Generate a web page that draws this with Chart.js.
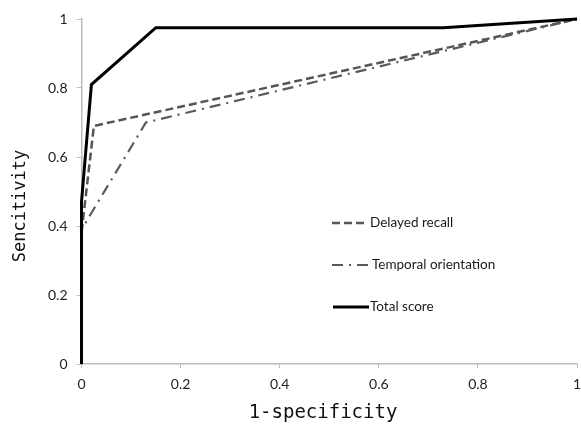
<!DOCTYPE html>
<html lang="en">
<head>
    <meta charset="UTF-8">
    <title>ROC curves</title>
    <script src="https://cdn.jsdelivr.net/npm/chart.js"></script>
    <style>
        body {
            margin: 0;
            background: #fff;
        }
        .chart-container {
            position: relative;
            width: 581px;
            height: 431px;
        }
    </style>
</head>
<body>
    <div class="chart-container">
        <canvas id="rocChart"></canvas>
    </div>

    <script>
        // ROC points: x = 1-specificity, y = sensitivity
        const seriesNames = ["Delayed recall", "Temporal orientation", "Total score"];
        const delayedX = [0, 0, 0.025, 1];
        const delayedY = [0, 0.38, 0.69, 1];
        const temporalX = [0, 0, 0.13, 1];
        const temporalY = [0, 0.39, 0.70, 1];
        const totalX = [0, 0, 0.02, 0.15, 0.73, 1];
        const totalY = [0, 0.47, 0.81, 0.975, 0.975, 1];
        const tickValues = [0, 0.2, 0.4, 0.6, 0.8, 1];

        function toPoints(xs, ys) {
            return xs.map((x, i) => ({ x: x, y: ys[i] }));
        }

        // legend inside the plot and both axis titles, placed like the original figure
        const innerLegend = {
            id: 'innerLegend',
            afterDatasetsDraw(chart) {
                const ctx = chart.ctx;
                const rows = [
                    { y: 223, x1: 332, x2: 364, tx: 370 },
                    { y: 265, x1: 332, x2: 369, tx: 372 },
                    { y: 307, x1: 333, x2: 369, tx: 370 }
                ];
                chart.data.datasets.forEach((ds, i) => {
                    const r = rows[i];
                    ctx.save();
                    ctx.strokeStyle = ds.borderColor;
                    ctx.lineWidth = ds.borderWidth;
                    ctx.setLineDash(ds.borderDash || []);
                    ctx.beginPath();
                    ctx.moveTo(r.x1, r.y);
                    ctx.lineTo(r.x2, r.y);
                    ctx.stroke();
                    ctx.setLineDash([]);
                    ctx.fillStyle = '#1a1a1a';
                    ctx.font = '13.5px Lato';
                    ctx.textBaseline = 'middle';
                    ctx.fillText(ds.label, r.tx, r.y);
                    ctx.restore();
                });

                ctx.save();
                ctx.fillStyle = '#111';
                ctx.textAlign = 'center';
                ctx.textBaseline = 'middle';
                ctx.font = '19px "DejaVu Sans Mono"';
                ctx.fillText('1-specificity', 323, 413);
                ctx.translate(21, 206);
                ctx.rotate(-Math.PI / 2);
                ctx.font = '17px "DejaVu Sans Mono"';
                ctx.fillText('Sencitivity', 0, 0);
                ctx.restore();
            }
        };

        const ctx = document.getElementById("rocChart").getContext("2d");
        const rocChart = new Chart(ctx, {
            type: 'scatter',
            data: {
                datasets: [
                    {
                        label: seriesNames[0],
                        data: toPoints(delayedX, delayedY),
                        borderColor: '#555',
                        borderWidth: 2.5,
                        borderDash: [8, 4],
                        order: 2
                    },
                    {
                        label: seriesNames[1],
                        data: toPoints(temporalX, temporalY),
                        borderColor: '#5a5a5a',
                        borderWidth: 2.2,
                        borderDash: [11, 6, 2, 6],
                        order: 1
                    },
                    {
                        label: seriesNames[2],
                        data: toPoints(totalX, totalY),
                        borderColor: '#000',
                        borderWidth: 3,
                        order: 0
                    }
                ].map(ds => Object.assign(ds, {
                    showLine: true,
                    tension: 0,
                    pointRadius: 0,
                    pointHoverRadius: 0,
                    fill: false,
                    clip: false
                }))
            },
            options: {
                responsive: true,
                maintainAspectRatio: false,
                animation: false,
                layout: {
                    padding: { top: 19, right: 4, left: 0, bottom: 0 }
                },
                plugins: {
                    legend: { display: false },
                    tooltip: { enabled: false }
                },
                scales: {
                    x: {
                        type: 'linear',
                        min: 0,
                        max: 1,
                        afterBuildTicks: s => { s.ticks = tickValues.map(v => ({ value: v })); },
                        afterFit: s => {
                            s.height = 67;
                            s.paddingLeft = 0;
                            s.paddingRight = 0;
                        },
                        grid: {
                            drawOnChartArea: false,
                            drawTicks: true,
                            tickLength: 4,
                            color: '#bbb'
                        },
                        border: { color: '#bbb', width: 1.5 },
                        ticks: {
                            color: '#222',
                            font: { family: 'Lato', size: 14 },
                            padding: 8,
                            maxRotation: 0,
                            callback: v => String(v)
                        }
                    },
                    y: {
                        type: 'linear',
                        min: 0,
                        max: 1,
                        afterBuildTicks: s => { s.ticks = tickValues.map(v => ({ value: v })); },
                        afterFit: s => {
                            s.width = 81.5;
                            s.paddingTop = 0;
                            s.paddingBottom = 0;
                        },
                        grid: {
                            drawOnChartArea: false,
                            drawTicks: true,
                            tickLength: 5,
                            color: '#bbb'
                        },
                        border: { color: '#bbb', width: 1.5 },
                        ticks: {
                            color: '#222',
                            font: { family: 'Lato', size: 14 },
                            padding: 9,
                            callback: v => String(v)
                        }
                    }
                }
            },
            plugins: [innerLegend]
        });
    </script>
</body>
</html>
